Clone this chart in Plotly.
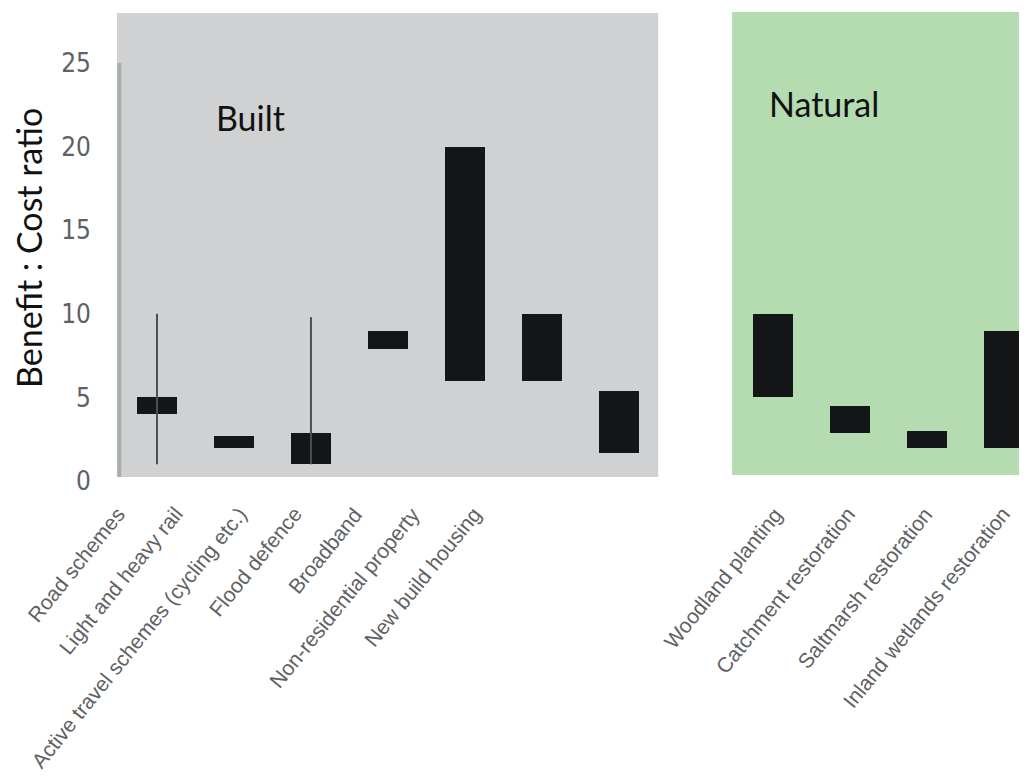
import plotly.graph_objects as go

# ---------------- data ----------------
categories = ["Road schemes", "Light and heavy rail", "Active travel schemes (cycling etc.)",
              "Flood defence", "Broadband", "Non-residential property", "New build housing",
              "Woodland planting", "Catchment restoration", "Saltmarsh restoration",
              "Inland wetlands restoration"]
groups = ["Built"] * 7 + ["Natural"] * 4
positions = [0, 1, 2, 3, 4, 5, 6, 8, 9, 10, 11]
ratio_low = [4.0, 2.0, 1.0, 7.9, 6.0, 6.0, 1.7, 5.0, 2.9, 2.0, 2.0]
ratio_high = [5.0, 2.7, 2.9, 9.0, 20.0, 10.0, 5.4, 10.0, 4.5, 3.0, 9.0]
whisker_cats = ["Road schemes", "Active travel schemes (cycling etc.)"]
whisker_low = [1.0, 1.0]
whisker_high = [10.0, 9.8]
y_ticks = [0, 5, 10, 15, 20, 25]

# ---------------- layout constants ----------------
# the page body has an 8px margin, so the figure is drawn 8px in from the corner
OFF = 8
W, H = 1027 - OFF, 776 - OFF
PLOT_L, PLOT_R, PLOT_T, PLOT_B = 100, 1027, 10, 490   # screen pixels
ML = PLOT_L - OFF
MR = 0
MT = PLOT_T - OFF
MB = H - (PLOT_B - OFF)
PW, PH = PLOT_R - PLOT_L, PLOT_B - PLOT_T


def px_x(px):
    return (px - PLOT_L) / PW


def px_y(py):
    return (PLOT_B - py) / PH


# anchor points (screen pixels) for the rotated category labels
label_end_x = [132, 190, 254, 309, 369, 427, 489, 790, 862, 940, 1017]
label_end_y = 500

fig = go.Figure()

# whiskers
wx, wy = [], []
for c, lo, hi in zip(whisker_cats, whisker_low, whisker_high):
    p = positions[categories.index(c)]
    wx += [p, p, None]
    wy += [lo, hi, None]
fig.add_trace(go.Scatter(x=wx, y=wy, mode="lines",
                         line=dict(color="#4d4f50", width=2), hoverinfo="skip",
                         showlegend=False))

# floating range bars
fig.add_trace(go.Bar(x=positions,
                     y=[h - l for l, h in zip(ratio_low, ratio_high)],
                     base=ratio_low, width=0.52,
                     marker=dict(color="#151617", line=dict(width=0)),
                     customdata=categories,
                     hovertemplate="%{customdata}<br>%{base} – %{y}<extra></extra>",
                     showlegend=False))

shapes = [
    dict(type="rect", xref="x", yref="y", x0=-0.52, x1=6.51, y0=0.24, y1=27.99,
         fillcolor="#cfd1d2", line=dict(width=0), layer="below"),
    dict(type="line", xref="x", yref="y", x0=-0.49, x1=-0.49, y0=0.24, y1=25.0,
         line=dict(color="#a9adaf", width=4), layer="below"),
    dict(type="rect", xref="x", yref="y", x0=7.47, x1=11.4, y0=0.36, y1=28.05,
         fillcolor="#b5dbb1", line=dict(width=0), layer="below"),
]

annotations = [
    dict(text="Built", xref="paper", yref="paper", x=px_x(250), y=px_y(117),
         showarrow=False, xanchor="center", yanchor="middle",
         font=dict(family="Lato, sans-serif", size=34, color="#111111")),
    dict(text="Natural", xref="paper", yref="paper", x=px_x(824), y=px_y(104),
         showarrow=False, xanchor="center", yanchor="middle",
         font=dict(family="Lato, sans-serif", size=34, color="#111111")),
    dict(text="Benefit : Cost ratio", xref="paper", yref="paper", x=px_x(28), y=px_y(248),
         showarrow=False, xanchor="center", yanchor="middle", textangle=-90,
         font=dict(family="Lato, sans-serif", size=34, color="#111111")),
]
for cat, ex in zip(categories, label_end_x):
    annotations.append(dict(text=cat, xref="paper", yref="paper",
                            x=px_x(ex), y=px_y(label_end_y),
                            showarrow=False, xanchor="right", yanchor="top",
                            textangle=-51,
                            font=dict(family="Liberation Sans, Arial, sans-serif",
                                      size=21, color="#5f6163")))

fig.update_layout(
    width=W, height=H,
    margin=dict(l=ML, r=MR, t=MT, b=MB),
    paper_bgcolor="white", plot_bgcolor="white",
    showlegend=False,
    shapes=shapes, annotations=annotations,
    xaxis=dict(range=[-0.740, 11.30], showticklabels=False, showgrid=False,
               zeroline=False, showline=False, ticks=""),
    yaxis=dict(range=[-0.538, 28.17], tickvals=y_ticks, showgrid=False,
               zeroline=False, showline=False, ticks="", ticklabelstandoff=8,
               tickfont=dict(family="Liberation Sans Narrow, DejaVu Sans Condensed, sans-serif",
                             size=26, color="#5f6163")),
    bargap=0,
)

fig.write_html("out.html")
